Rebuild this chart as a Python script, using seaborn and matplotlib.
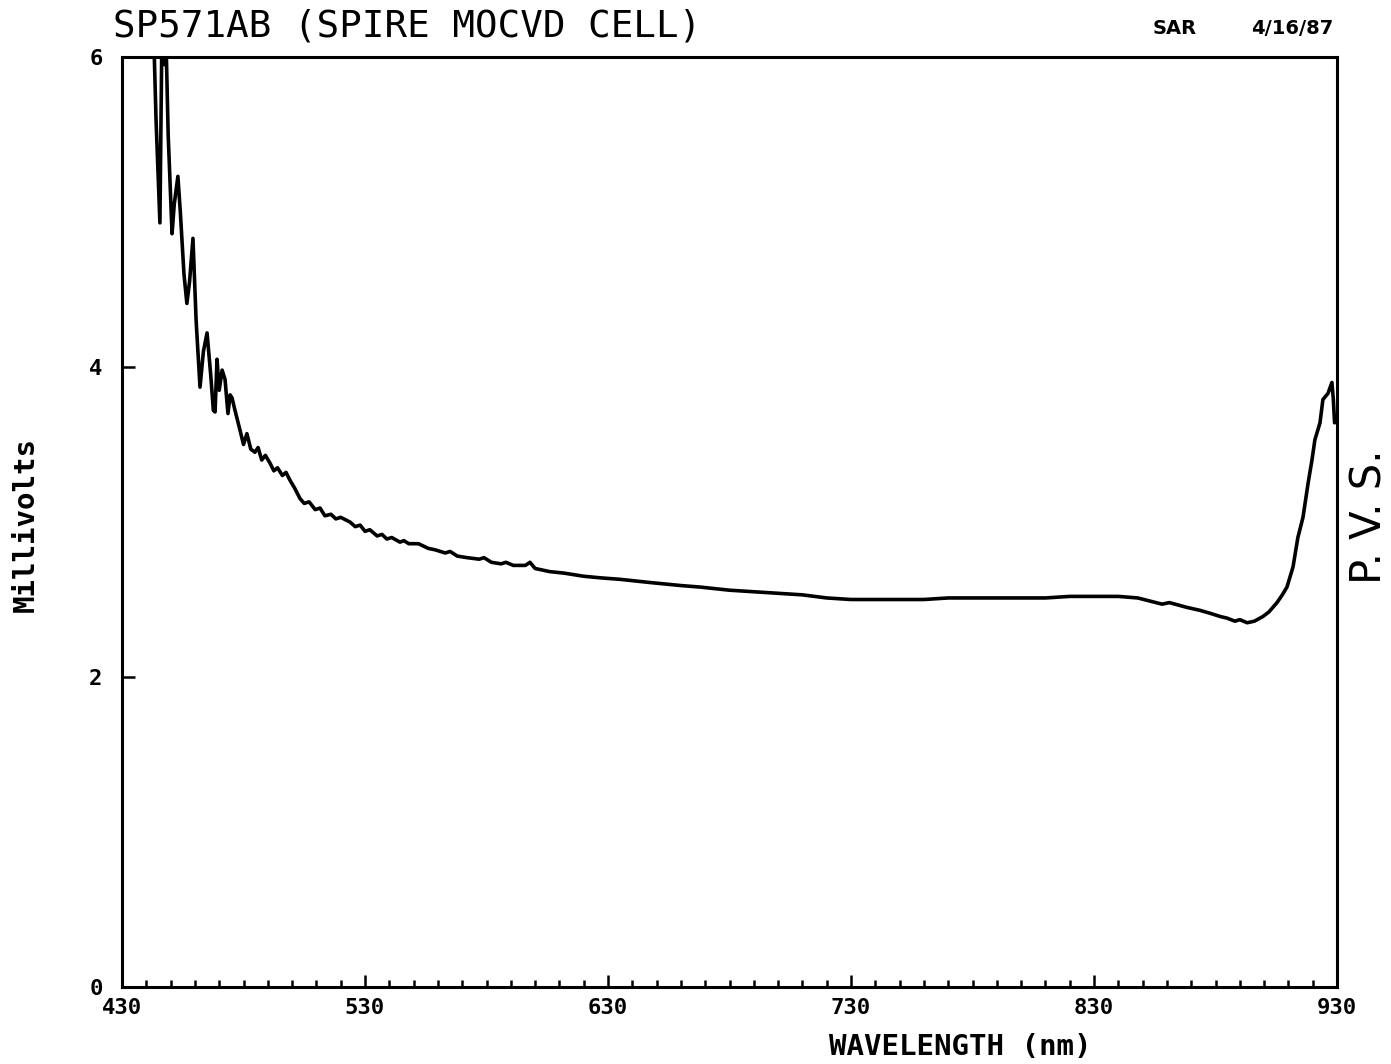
import numpy as np
import pandas as pd
import matplotlib
matplotlib.use("Agg")
import matplotlib.pyplot as plt
from matplotlib.ticker import MultipleLocator
import seaborn as sns

wavelength_nm = [
    442.6, 444.0, 445.6, 446.6, 447.6, 448.2, 449.0, 450.6, 451.5, 453.0,
    454.0, 455.5, 456.7, 457.8, 459.2, 460.5, 462.1, 463.5, 465.0, 466.5,
    467.6, 468.3, 469.1, 470.0, 471.2, 472.4, 473.6, 474.5, 475.3, 476.5,
    478.6, 480.0, 481.4, 483.0, 484.7, 486.0, 487.5, 489.0, 490.9, 492.5,
    494.0, 496.0, 497.5, 499.1, 501.0, 503.3, 505.0, 507.0, 509.5, 511.5,
    513.5, 516.0, 518.0, 520.0, 523.8, 526.0, 528.0, 530.0, 532.0, 535.0,
    537.0, 539.0, 541.0, 544.4, 546.0, 548.0, 552.0, 556.0, 559.0, 563.0,
    565.0, 568.0, 572.0, 577.0, 579.0, 582.0, 586.0, 588.0, 591.0, 596.0,
    597.9, 600.0, 606.0, 612.0, 620.0, 626.7, 635.0, 647.0,
    660.0, 668.0, 680.0, 690.0, 700.0, 710.0, 720.0, 730.0, 740.0, 750.0,
    760.0, 770.0, 780.0, 790.0, 800.0, 810.0, 820.0, 830.0, 840.0, 848.0,
    853.0, 858.0, 861.0, 863.3, 868.0, 873.6, 878.0, 882.0, 884.7, 888.0,
    890.0, 893.0, 896.0, 899.5, 902.0, 905.3, 907.5, 909.4, 911.9, 913.9,
    916.0, 918.1, 919.7, 920.9, 923.0, 924.2, 926.3, 927.9, 928.5, 929.0,
]
millivolts = [
    6.40, 5.60, 4.93, 6.40, 5.95, 6.05, 5.50, 4.86, 5.05, 5.23,
    5.00, 4.60, 4.41, 4.55, 4.83, 4.30, 3.87, 4.10, 4.22, 3.95,
    3.72, 3.71, 4.05, 3.85, 3.98, 3.92, 3.70, 3.82, 3.80, 3.72,
    3.59, 3.50, 3.57, 3.47, 3.45, 3.48, 3.40, 3.43, 3.38, 3.33,
    3.35, 3.30, 3.32, 3.27, 3.22, 3.15, 3.12, 3.13, 3.08, 3.09,
    3.04, 3.05, 3.02, 3.03, 3.00, 2.97, 2.98, 2.94, 2.95, 2.91,
    2.92, 2.89, 2.90, 2.87, 2.88, 2.86, 2.86, 2.83, 2.82, 2.80,
    2.81, 2.78, 2.77, 2.76, 2.77, 2.74, 2.73, 2.74, 2.72, 2.72,
    2.74, 2.70, 2.68, 2.67, 2.65, 2.64, 2.63, 2.61,
    2.59, 2.58, 2.56, 2.55, 2.54, 2.53, 2.51, 2.50, 2.50, 2.50,
    2.50, 2.51, 2.51, 2.51, 2.51, 2.51, 2.52, 2.52, 2.52, 2.51,
    2.49, 2.47, 2.48, 2.47, 2.45, 2.43, 2.41, 2.39, 2.38, 2.36,
    2.37, 2.35, 2.36, 2.39, 2.42, 2.48, 2.53, 2.58, 2.71, 2.90,
    3.03, 3.25, 3.40, 3.53, 3.64, 3.79, 3.83, 3.90, 3.79, 3.64,
]
x_tick_labels = [430, 530, 630, 730, 830, 930]
y_tick_labels = [0, 2, 4, 6]

df = pd.DataFrame({"wavelength": wavelength_nm, "mv": millivolts})

sns.set_theme(style="ticks")
plt.rcParams["font.family"] = ["DejaVu Sans"]

W, H = 1391, 1064
fig = plt.figure(figsize=(W / 100, H / 100), dpi=100)
ax = fig.add_axes([122 / W, 1 - 987 / H, (1337 - 122) / W, (987 - 57) / H])

sns.lineplot(data=df, x="wavelength", y="mv", ax=ax, color="black",
             linewidth=2.6, sort=False, estimator=None)

ax.set_xlim(430, 930)
ax.set_ylim(0, 6)
ax.set_xticks(x_tick_labels)
ax.set_xticklabels([str(v) for v in x_tick_labels])
ax.xaxis.set_minor_locator(MultipleLocator(10))
ax.set_yticks(y_tick_labels)
ax.set_yticklabels([str(v) for v in y_tick_labels])
ax.tick_params(axis="both", which="major", direction="in", length=9, width=1.8,
               color="black", labelcolor="black")
ax.tick_params(axis="x", which="minor", direction="in", length=5, width=1.8,
               color="black")
ax.tick_params(axis="x", which="major", pad=8)
ax.tick_params(axis="y", which="major", pad=14)
for lab in ax.get_xticklabels() + ax.get_yticklabels():
    lab.set_fontfamily("DejaVu Sans Mono")
    lab.set_fontweight("bold")
    lab.set_fontsize(16)
for s in ax.spines.values():
    s.set_visible(True)
    s.set_linewidth(2.2)
    s.set_color("black")
ax.set_xlabel("")
ax.set_ylabel("")
ax.grid(False)

fig.text(113 / W, 1 - 27 / H, "SP571AB (SPIRE MOCVD CELL)", family="DejaVu Sans Mono",
         fontsize=27, ha="left", va="center", color="black")
fig.text(1153 / W, 1 - 28 / H, "SAR", fontsize=14, fontweight="bold",
         ha="left", va="center", color="black")
fig.text(1333 / W, 1 - 28 / H, "4/16/87", fontsize=14, fontweight="bold",
         ha="right", va="center", color="black")
fig.text(960 / W, 1 - 1047 / H, "WAVELENGTH (nm)", family="DejaVu Sans Mono",
         fontsize=21, fontweight="bold", ha="center", va="center", color="black")
fig.text(26 / W, 1 - 525 / H, "Millivolts", family="DejaVu Sans Mono",
         fontsize=21, fontweight="bold", rotation=90, ha="center", va="center",
         color="black")
fig.text(1381 / W, 1 - 517 / H, "P. V. S.", fontsize=30, rotation=90,
         rotation_mode="anchor", ha="center", va="baseline", color="black")

fig.savefig("out.png", dpi=100, facecolor="white")
